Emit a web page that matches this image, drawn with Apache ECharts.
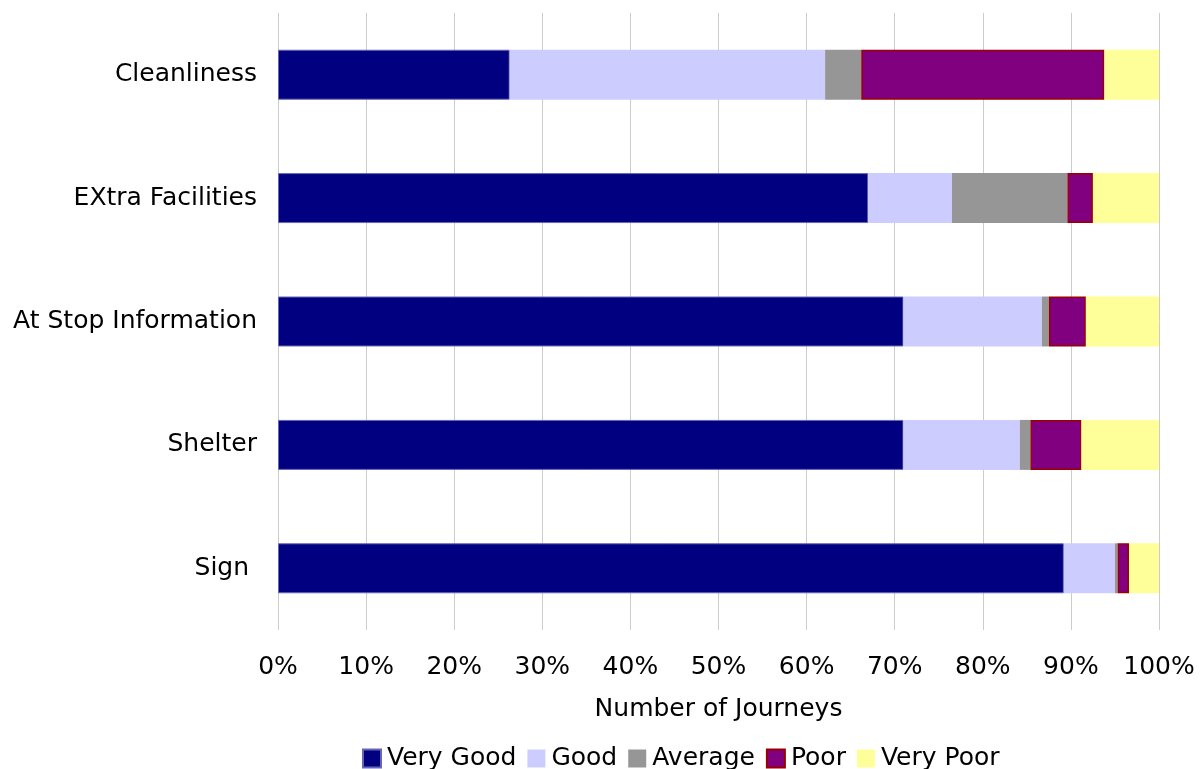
<!DOCTYPE html>
<html>
<head>
<meta charset="utf-8">
<script src="https://cdn.jsdelivr.net/npm/echarts@6/dist/echarts.min.js"></script>
<style>html,body{margin:0;padding:0;background:#fff}#c{width:1202px;height:769px}</style>
</head>
<body>
<div id="c"></div>
<script>
const categories = ['Sign ', 'Shelter', 'At Stop Information', 'EXtra Facilities', 'Cleanliness'];
const veryGood = [89.2, 71.0, 71.0, 67.0, 26.3];
const good = [5.8, 13.2, 15.7, 9.5, 35.8];
const average = [0.3, 1.2, 0.8, 13.1, 4.1];
const poor = [1.3, 5.8, 4.2, 2.9, 27.6];
const veryPoor = [3.4, 8.8, 8.3, 7.5, 6.2];
const xTicks = [0, 10, 20, 30, 40, 50, 60, 70, 80, 90, 100];

const FONT = 'DejaVu Sans';
const FS = 25;
const chart = echarts.init(document.getElementById('c'));
function s(name, data, color, border, bw) {
  return {
    name, type: 'bar', stack: 'total', data, barWidth: '40.5%',
    itemStyle: { color, borderColor: border, borderWidth: bw },
    emphasis: { disabled: true }
  };
}
chart.setOption({
  animation: false,
  textStyle: { fontFamily: FONT },
  grid: { left: 278, right: 43, top: 13, height: 617, containLabel: false },
  xAxis: {
    type: 'value', min: 0, max: 100, interval: 10,
    axisLabel: { formatter: v => xTicks.includes(v) ? v + '%' : '', color: '#000', fontSize: FS, fontFamily: FONT, margin: 25 },
    axisLine: { show: false }, axisTick: { show: false },
    splitLine: { show: true, lineStyle: { color: '#cccccc', width: 1 } },
    name: 'Number of Journeys', nameLocation: 'middle', nameGap: 67,
    nameTextStyle: { color: '#000', fontSize: FS, fontFamily: FONT }
  },
  yAxis: {
    type: 'category', data: categories,
    axisLine: { show: false }, axisTick: { show: false },
    axisLabel: { color: '#000', fontSize: FS, fontFamily: FONT, margin: 21 }
  },
  legend: {
    top: 746, left: 362, itemWidth: 18, itemHeight: 18, itemGap: 11,
    icon: 'rect', padding: 0,
    textStyle: { color: '#000', fontSize: FS, fontFamily: FONT, padding: [0, 0, 0, 1] },
    data: ['Very Good', 'Good', 'Average', 'Poor', 'Very Poor']
  },
  series: [
    s('Very Good', veryGood, '#000080', '#6666b3', 1),
    s('Good', good, '#ccccff', '#ccccff', 0),
    s('Average', average, '#969696', '#969696', 0),
    s('Poor', poor, '#800080', '#990000', 1.5),
    s('Very Poor', veryPoor, '#ffff99', '#ffff99', 0)
  ]
});
</script>
</body>
</html>
